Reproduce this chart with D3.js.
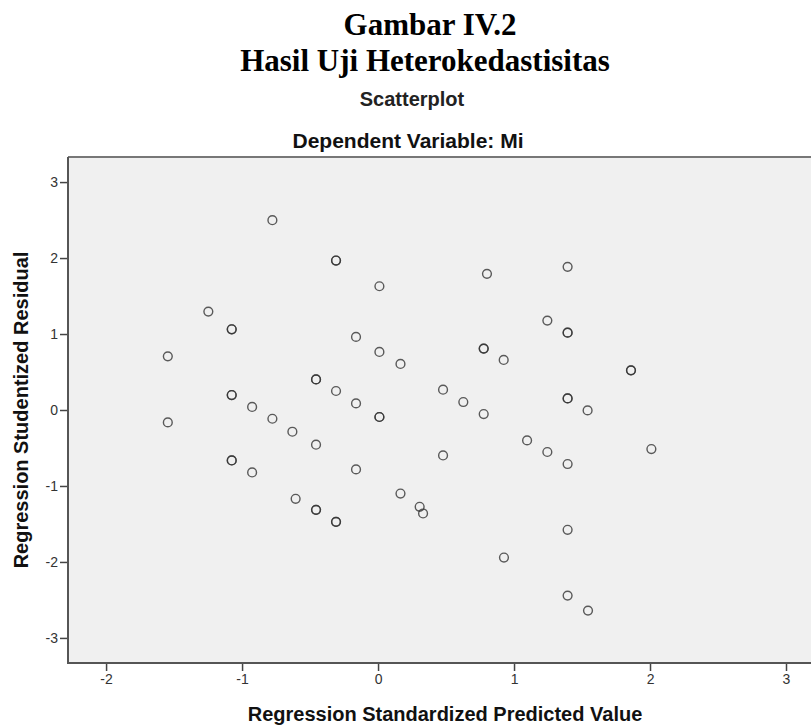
<!DOCTYPE html>
<html>
<head>
<meta charset="utf-8">
<script src="https://cdn.jsdelivr.net/npm/d3@7"></script>
<style>
  body { margin: 0; background: #fff; }
  svg { display: block; }
</style>
</head>
<body>
<svg class="chart"></svg>
<script>
// Regression Standardized Predicted Value (x) and Studentized Residual (y)
// repeated pairs are tied cases (they show as darker rings)
var predicted = [
  -1.546, -1.546, -1.248, -1.076, -1.076, -1.076, -1.076, -1.076, -1.076,
  -0.926, -0.926, -0.777, -0.777, -0.630, -0.606,
  -0.456, -0.456, -0.456, -0.456, -0.456,
  -0.309, -0.309, -0.309, -0.309, -0.309,
  -0.162, -0.162, -0.162, 0.010, 0.010, 0.010, 0.010,
  0.165, 0.165, 0.306, 0.331, 0.478, 0.478,
  0.627, 0.777, 0.777, 0.801, 0.777, 0.924, 0.926, 1.096,
  1.245, 1.245, 1.394, 1.394, 1.394, 1.394, 1.394, 1.394, 1.394, 1.394,
  1.541, 1.544, 1.860, 1.860, 2.010
];
var residual = [
  0.706, -0.163, 1.295, 1.062, 1.062, 0.197, 0.197, -0.664, -0.664,
  0.040, -0.822, 2.498, -0.115, -0.286, -1.169,
  0.403, 0.403, -0.457, -1.314, -1.314,
  1.967, 1.967, 0.250, -1.472, -1.472,
  0.962, 0.087, -0.782, 1.629, 0.764, -0.092, -0.092,
  0.606, -1.100, -1.274, -1.362, 0.267, -0.598,
  0.105, 0.808, 0.808, 1.792, -0.053, 0.659, -1.942, -0.400,
  1.177, -0.553, 1.884, 1.018, 1.018, 0.153, 0.153, -0.711, -1.577, -2.443,
  -0.005, -2.640, 0.522, 0.522, -0.514
];
var xTicks = [-2, -1, 0, 1, 2, 3];
var yTicks = [-3, -2, -1, 0, 1, 2, 3];

var W = 811, H = 725;
var plot = {left: 68, top: 157, right: 820, bottom: 663};

var svg = d3.select(".chart")
    .attr("width", W)
    .attr("height", H);

var x = d3.scaleLinear().domain([-2.28, 3.25]).range([plot.left, plot.right]);
var y = d3.scaleLinear().domain([-3.33, 3.33]).range([plot.bottom, plot.top]);

// titles
var sans = "'Liberation Sans', Arial, sans-serif",
    serif = "'Liberation Serif', 'Times New Roman', serif";

svg.append("text").attr("x", 430).attr("y", 35)
    .attr("text-anchor", "middle").style("font", "bold 31px " + serif)
    .text("Gambar IV.2");
svg.append("text").attr("x", 425).attr("y", 71)
    .attr("text-anchor", "middle").style("font", "bold 31px " + serif)
    .text("Hasil Uji Heterokedastisitas");
svg.append("text").attr("x", 412).attr("y", 106)
    .attr("text-anchor", "middle").style("font", "bold 20px " + sans).style("fill", "#222")
    .text("Scatterplot");
svg.append("text").attr("x", 408).attr("y", 148)
    .attr("text-anchor", "middle").style("font", "bold 21px " + sans).style("fill", "#111")
    .text("Dependent Variable: Mi");

// plot background
svg.append("rect")
    .attr("x", plot.left).attr("y", plot.top)
    .attr("width", plot.right - plot.left).attr("height", plot.bottom - plot.top)
    .style("fill", "#f0f0f0");

// top border is lighter than the axis lines
svg.append("line")
    .attr("x1", plot.left).attr("x2", plot.right)
    .attr("y1", plot.top).attr("y2", plot.top)
    .style("stroke", "#777").style("stroke-width", 2);

// axes, plain hyphen minus like the original
var fmt = function(d) { return String(d); };
var yAxis = svg.append("g")
    .attr("transform", "translate(" + plot.left + ",0)")
    .call(d3.axisLeft(y).tickValues(yTicks).tickSize(8).tickPadding(2).tickFormat(fmt));
var xAxis = svg.append("g")
    .attr("transform", "translate(0," + plot.bottom + ")")
    .call(d3.axisBottom(x).tickValues(xTicks).tickSize(8).tickPadding(3).tickFormat(fmt));

[yAxis, xAxis].forEach(function(a) {
    a.select(".domain").remove();
    a.selectAll(".tick line").style("stroke", "#444").style("stroke-width", 1.5);
    a.selectAll(".tick text").style("font", "14px " + sans).style("fill", "#333");
});

svg.append("path")
    .attr("d", "M" + plot.left + "," + plot.top + "V" + plot.bottom + "H" + plot.right)
    .style("fill", "none").style("stroke", "#555").style("stroke-width", 2);

// points
var points = predicted.map(function(p, i) { return {x: p, y: residual[i]}; });

svg.append("g").selectAll("circle")
    .data(points)
    .enter().append("circle")
    .attr("cx", function(d) { return x(d.x); })
    .attr("cy", function(d) { return y(d.y); })
    .attr("r", 4.4)
    .style("fill", "none")
    .style("stroke", "#333")
    .style("stroke-opacity", 0.8)
    .style("stroke-width", 1.4);

// axis titles
svg.append("text")
    .attr("transform", "translate(28," + y(0) + ") rotate(-90)")
    .attr("text-anchor", "middle").style("font", "bold 20px " + sans).style("fill", "#111")
    .text("Regression Studentized Residual");
svg.append("text")
    .attr("x", 445).attr("y", 721)
    .attr("text-anchor", "middle").style("font", "bold 20px " + sans).style("fill", "#111")
    .text("Regression Standardized Predicted Value");
</script>
</body>
</html>
